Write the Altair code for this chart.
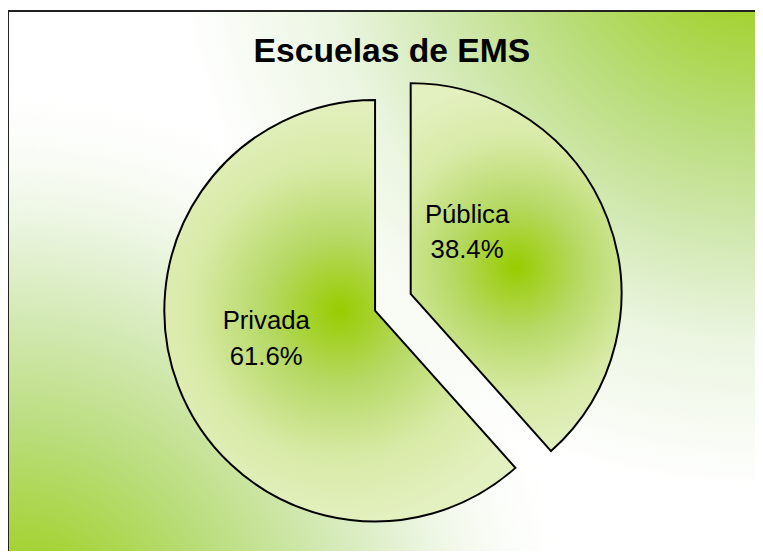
import altair as alt
import pandas as pd

# ---- data ----
categories = ["Pública", "Privada"]
values = [38.4, 61.6]
order = [1, 2]
title_text = "Escuelas de EMS"

df = pd.DataFrame({"categoria": categories, "valor": values, "orden": order})

# ---- layout ----
W, H = 755, 546
R = 213
centers = {"Privada": (371, 303), "Pública": (407, 286)}
label_off = {"Privada": (-110, 19), "Pública": (57, -72)}

GREEN = "#99cc00"
corner_stops = [
    (0.00, "#99cc00"), (0.15, "#a6d338"), (0.30, "#badd7c"),
    (0.45, "#d3e9b4"), (0.58, "#ebf5e0"), (0.72, "#ffffff"),
]

# top-right corner glow over white
grad_tr = alt.RadialGradient(
    gradient="radial", x1=1, y1=0, r1=0, x2=1, y2=0, r2=0.78,
    stops=[alt.GradientStop(offset=o / 0.78 if o < 0.72 else 1, color=c)
           for o, c in corner_stops],
)
# bottom-left corner glow, fading to transparent
bl_stops = [(o, c) for o, c in corner_stops[:-1]] + [(0.72, "rgba(255,255,255,0)")]
grad_bl = alt.RadialGradient(
    gradient="radial", x1=0, y1=1, r1=0, x2=0, y2=1, r2=0.78,
    stops=[alt.GradientStop(offset=o / 0.78 if o < 0.72 else 1, color=c)
           for o, c in bl_stops],
)

slice_gradient = alt.RadialGradient(
    gradient="radial", x1=0.5, y1=0.5, r1=0, x2=0.5, y2=0.5, r2=0.5,
    stops=[
        alt.GradientStop(offset=0, color="#99cc00"),
        alt.GradientStop(offset=0.35, color="#b6d966"),
        alt.GradientStop(offset=0.7, color="#d8eaa6"),
        alt.GradientStop(offset=1, color="#e3f0bf"),
    ],
)

frame_df = pd.DataFrame({"k": [0]})
bg_tr = alt.Chart(frame_df).mark_rect(fill=grad_tr, strokeWidth=0).encode(
    x=alt.value(0), x2=alt.value(W), y=alt.value(0), y2=alt.value(H)
)
bg_bl = alt.Chart(frame_df).mark_rect(fill=grad_bl, strokeWidth=0).encode(
    x=alt.value(0), x2=alt.value(W), y=alt.value(0), y2=alt.value(H)
)

base = (
    alt.Chart(df)
    .transform_window(cum="sum(valor)", sort=[alt.SortField("orden")])
    .transform_calculate(
        start="datum.cum - datum.valor",
        etiqueta="datum.categoria + '\\n' + format(datum.valor, '.1f') + '%'",
    )
)

theta_scale = alt.Scale(domain=[0, 100])

layers = []
for cat in ["Privada", "Pública"]:
    cx, cy = centers[cat]
    dx, dy = label_off[cat]
    sub = base.transform_filter(alt.datum.categoria == cat)
    arc = sub.mark_arc(
        radius=R, fill=slice_gradient, stroke="black", strokeWidth=2
    ).encode(
        theta=alt.Theta("start:Q", scale=theta_scale),
        theta2="cum:Q",
        x=alt.value(cx),
        y=alt.value(cy),
    )
    txt = sub.mark_text(
        font="Liberation Sans", fontSize=26, color="black", align="center",
        baseline="alphabetic", lineBreak="\n", lineHeight=36, dx=dx, dy=dy,
    ).encode(
        text="etiqueta:N",
        x=alt.value(cx),
        y=alt.value(cy),
    )
    layers += [arc, txt]

top_rule = alt.Chart(frame_df).mark_rule(color="#222222", strokeWidth=2).encode(
    x=alt.value(0), x2=alt.value(W), y=alt.value(0)
)
left_rule = alt.Chart(frame_df).mark_rule(color="#222222", strokeWidth=2).encode(
    x=alt.value(0), y=alt.value(0), y2=alt.value(H)
)
title = alt.Chart(pd.DataFrame({"t": [title_text]})).mark_text(
    font="Liberation Sans", fontSize=34, fontWeight="bold", color="black",
    align="center", baseline="alphabetic",
).encode(text="t:N", x=alt.value(388), y=alt.value(52))

chart = (
    alt.layer(bg_tr, bg_bl, *layers, title, top_rule, left_rule)
    .properties(width=W, height=H, padding=0, autosize="none")
    .configure_view(stroke=None)
)

chart.save("out.html", embed_options={"renderer": "svg", "actions": False})
